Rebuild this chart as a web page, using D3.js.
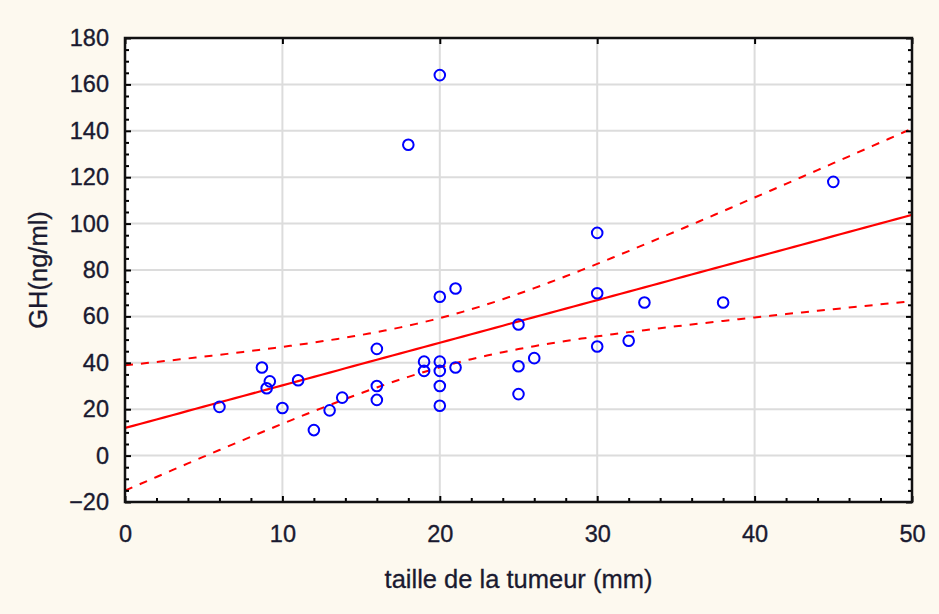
<!DOCTYPE html>
<html><head><meta charset="utf-8">
<script src="https://cdn.jsdelivr.net/npm/d3@7/dist/d3.min.js"></script>
<style>
html,body{margin:0;padding:0;background:#fdf9ef;}
svg{display:block;}
</style></head>
<body>
<script>
// ---- data ----
const tumorSize = [6, 8.7, 9.2, 9, 10, 11, 12, 13, 13.8, 16, 16, 16, 18, 19, 19, 20, 20, 20, 20, 20, 20, 21, 21, 25, 25, 25, 26, 30, 30, 30, 32, 33, 38, 45];
const ghLevel   = [21, 38, 32, 29, 20.5, 32.5, 11, 19.5, 25, 46, 30, 24, 134, 40.5, 36.5, 164, 68.5, 40.5, 36.5, 30, 21.5, 72, 38, 56.5, 38.5, 26.5, 42, 96, 70, 47, 49.5, 66, 66, 118];
const xTicks = [0, 10, 20, 30, 40, 50];
const yTicks = [-20, 0, 20, 40, 60, 80, 100, 120, 140, 160, 180];
const xTitle = "taille de la tumeur (mm)";
const yTitle = "GH(ng/ml)";
const tCrit = 2.0369; // t(0.975, df = 32) for the 95% confidence band

const W = 939, H = 614;
const L = 125, R = 912, T = 38, B = 502;
const txt = "#1a1a30";
const font = "Liberation Sans, Arial, sans-serif";

const svg = d3.select("body").append("svg").attr("width", W).attr("height", H);
svg.append("rect").attr("width", W).attr("height", H).attr("fill", "#fdf9ef");

const x = d3.scaleLinear().domain([0, 50]).range([L, R]);
const y = d3.scaleLinear().domain([-20, 180]).range([B, T]);

svg.append("rect").attr("x", L).attr("y", T).attr("width", R - L).attr("height", B - T).attr("fill", "#fff");

// grid
const grid = svg.append("g").attr("stroke", "#dcdcdc").attr("stroke-width", 2);
xTicks.slice(1, -1).forEach(v => grid.append("line").attr("x1", x(v)).attr("x2", x(v)).attr("y1", T).attr("y2", B));
yTicks.slice(1, -1).forEach(v => grid.append("line").attr("x1", L).attr("x2", R).attr("y1", y(v)).attr("y2", y(v)));

// regression + 95% CI from data
const n = tumorSize.length;
const mx = d3.mean(tumorSize), my = d3.mean(ghLevel);
let sxx = 0, sxy = 0;
for (let i = 0; i < n; i++) { sxx += (tumorSize[i] - mx) ** 2; sxy += (tumorSize[i] - mx) * (ghLevel[i] - my); }
const slope = sxy / sxx, intercept = my - slope * mx;
let sse = 0;
for (let i = 0; i < n; i++) sse += (ghLevel[i] - (intercept + slope * tumorSize[i])) ** 2;
const s = Math.sqrt(sse / (n - 2));
const xs = d3.range(0, 50.01, 0.5);
const fit = v => intercept + slope * v;
const half = v => tCrit * s * Math.sqrt(1 / n + (v - mx) ** 2 / sxx);

const line = d3.line().x(d => x(d[0])).y(d => y(d[1]));
const clipId = "plotclip";
svg.append("clipPath").attr("id", clipId).append("rect").attr("x", L).attr("y", T).attr("width", R - L).attr("height", B - T);
const fitG = svg.append("g").attr("clip-path", `url(#${clipId})`);
fitG.append("path").datum(xs.map(v => [v, fit(v)])).attr("d", line)
  .attr("fill", "none").attr("stroke", "#ff0000").attr("stroke-width", 2.2);
[1, -1].forEach(sg => {
  fitG.append("path").datum(xs.map(v => [v, fit(v) + sg * half(v)])).attr("d", line)
    .attr("fill", "none").attr("stroke", "#ff0000").attr("stroke-width", 2).attr("stroke-dasharray", "8 8");
});

// points
svg.append("g").selectAll("circle").data(tumorSize.map((v, i) => [v, ghLevel[i]])).join("circle")
  .attr("cx", d => x(d[0])).attr("cy", d => y(d[1])).attr("r", 5.3)
  .attr("fill", "none").attr("stroke", "#0000ff").attr("stroke-width", 2);

// axes
function styleAxis(g) {
  g.select(".domain").remove();
  g.selectAll(".tick line").attr("stroke", "#000").attr("stroke-width", 2);
  g.selectAll("text").attr("fill", txt).attr("stroke", txt).attr("stroke-width", 0.35)
    .style("font-family", font).style("font-size", "23.5px");
}
const xMinor = d3.range(0, 50.01, 2).filter(v => v % 10 !== 0);
const yMinor = d3.range(-20, 180.01, 5).filter(v => v % 20 !== 0);

svg.append("g").attr("transform", `translate(0,${B})`)
  .call(d3.axisBottom(x).tickValues(xTicks).tickSize(-6).tickPadding(23).tickFormat(d3.format("d"))).call(styleAxis);
svg.append("g").attr("transform", `translate(0,${B})`)
  .call(d3.axisBottom(x).tickValues(xMinor).tickSize(-4).tickFormat("")).call(styleAxis);
svg.append("g").attr("transform", `translate(${L},0)`)
  .call(d3.axisLeft(y).tickValues(yTicks).tickSize(-6).tickPadding(16).tickFormat(d3.format("d"))).call(styleAxis);
svg.append("g").attr("transform", `translate(${L},0)`)
  .call(d3.axisLeft(y).tickValues(yMinor).tickSize(-4).tickFormat("")).call(styleAxis);
svg.append("g").attr("transform", `translate(0,${T})`)
  .call(d3.axisTop(x).tickValues(xTicks).tickSize(-6).tickFormat("")).call(styleAxis);
svg.append("g").attr("transform", `translate(${R},0)`)
  .call(d3.axisRight(y).tickValues(yTicks).tickSize(-6).tickFormat("")).call(styleAxis);
svg.append("g").attr("transform", `translate(${R},0)`)
  .call(d3.axisRight(y).tickValues(yMinor).tickSize(-4).tickFormat("")).call(styleAxis);

// frame
svg.append("rect").attr("x", L).attr("y", T).attr("width", R - L).attr("height", B - T)
  .attr("fill", "none").attr("stroke", "#111").attr("stroke-width", 2.5);

// titles
svg.append("text").attr("x", (L + R) / 2).attr("y", 588).attr("text-anchor", "middle")
  .attr("fill", txt).attr("stroke", txt).attr("stroke-width", 0.3)
  .style("font-family", font).style("font-size", "25.5px").text(xTitle);
svg.append("text").attr("transform", `translate(47,${(T + B) / 2}) rotate(-90)`).attr("text-anchor", "middle")
  .attr("fill", txt).attr("stroke", txt).attr("stroke-width", 0.3)
  .style("font-family", font).style("font-size", "25.5px").text(yTitle);
</script>
</body></html>
